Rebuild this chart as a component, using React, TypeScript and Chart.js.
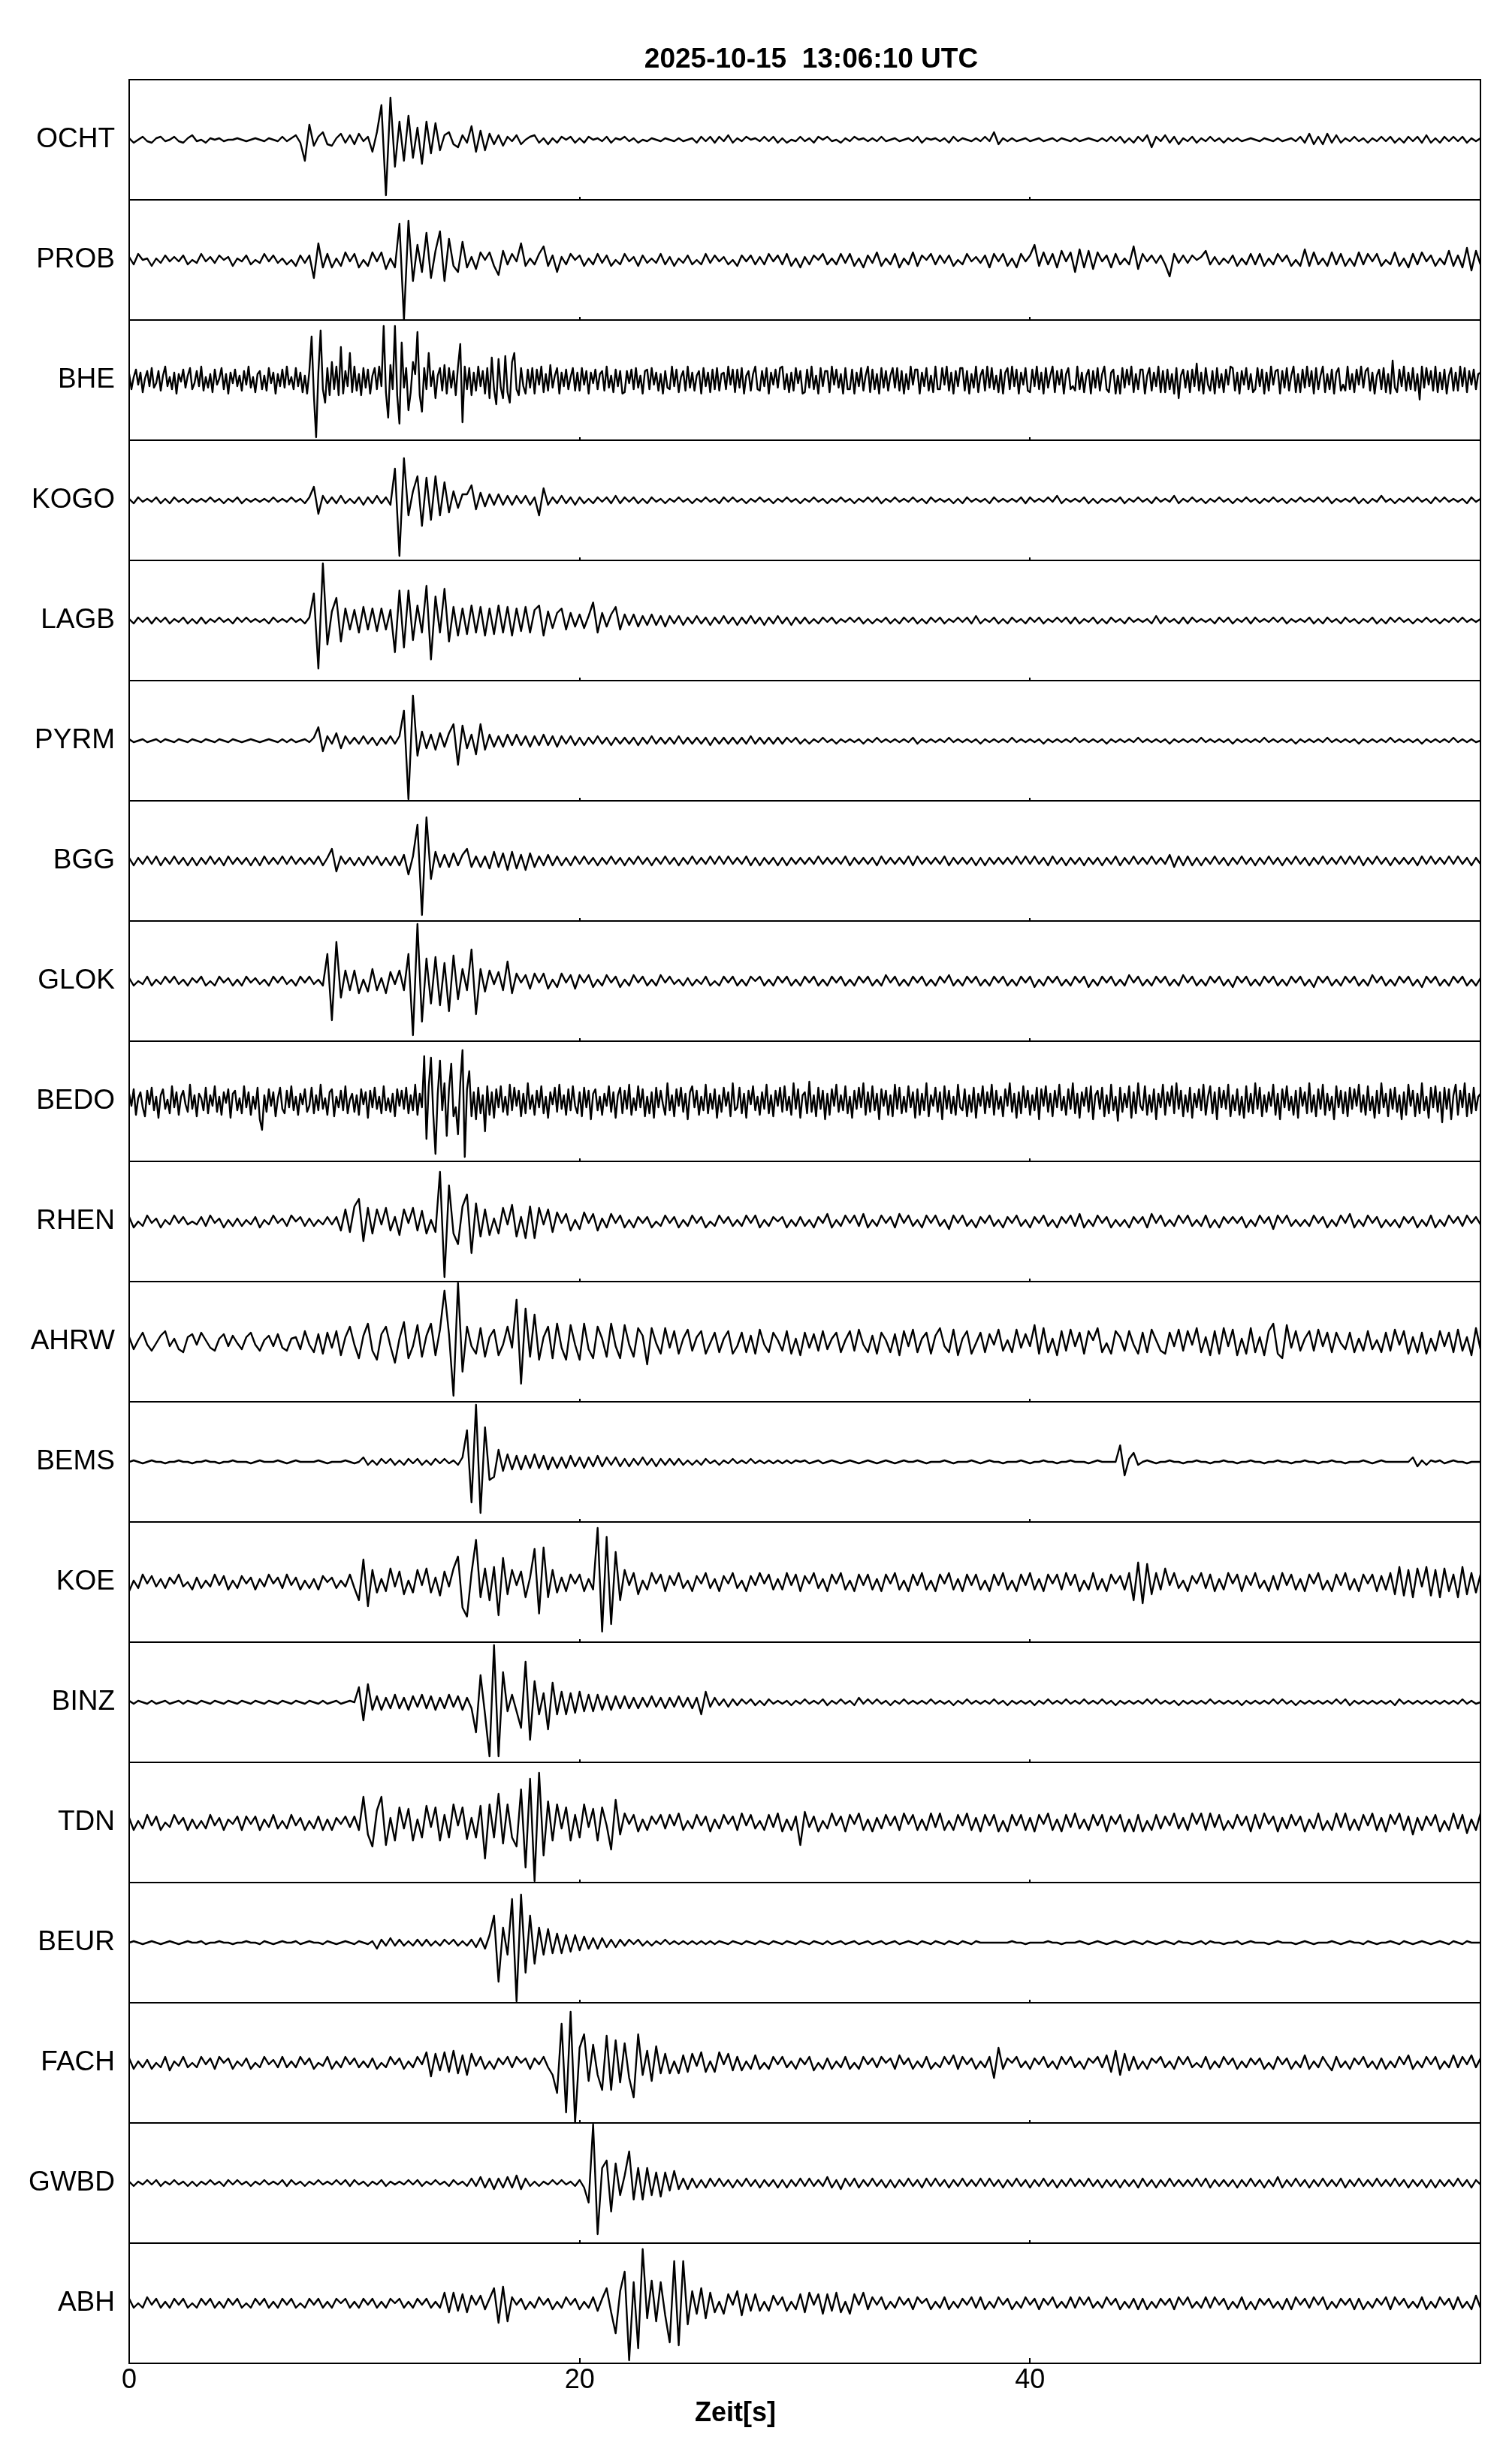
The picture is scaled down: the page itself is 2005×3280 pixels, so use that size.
import React, { useEffect, useRef } from 'react';
import { Chart, registerables } from 'chart.js';

Chart.register(...registerables);

const TITLE = '2025-10-15  13:06:10 UTC';
const X_LABEL = 'Zeit[s]';
const X_MIN = 0;
const X_MAX = 60;
const X_TICKS = [0, 20, 40];
const AMP_MAX = 40;
const STATIONS = ['OCHT', 'PROB', 'BHE', 'KOGO', 'LAGB', 'PYRM', 'BGG', 'GLOK', 'BEDO', 'RHEN', 'AHRW', 'BEMS', 'KOE', 'BINZ', 'TDN', 'BEUR', 'FACH', 'GWBD', 'ABH'];
// sample interval (s) of each trace, same order as STATIONS
const SAMPLE_INTERVALS = [0.2, 0.2, 0.1, 0.2, 0.2, 0.2, 0.2, 0.2, 0.1, 0.2, 0.2, 0.2, 0.2, 0.2, 0.2, 0.2, 0.2, 0.2, 0.2];

const OCHT = [
  1,-2,0,2,-1, -2,1,2,-1,0, 2,-1,-2,1,3, -1,0,-2,1,0, 1,-1,0,0,1,
  0,-1,0,1,0, -1,1,0,-1,2, -1,1,3,-2,-14, 10,-4,2,5,-3, -4,1,4,-2,3,
  -3,4,-1,2,-8, 5,23,-37,28,-18, 12,-14,16,-12,8, -16,12,-9,11,-7, 3,5,-3,-5,3,
  -2,9,-8,6,-7, 4,-3,3,-4,2, -1,3,-3,0,2, 3,-2,1,-3,1, -2,2,0,2,-2,
  1,-2,2,0,1, -1,2,-2,1,0, 2,-1,1,-2,0, -1,1,0,-1,1, 0,-1,1,-1,0,
  1,-2,2,-1,2, -2,2,-1,3,-2, 1,-1,2,0,1, -1,2,-1,2,-2, 1,-2,0,-1,2,
  -1,1,-2,2,0, 2,-1,0,-2,1, -1,2,0,1,-1, 1,-1,2,-1,0, 1,-1,0,1,-1,
  2,-2,1,0,1, -1,1,-2,2,-1, 1,0,-1,1,-1, 2,-1,5,-3,1, -1,1,-1,0,1,
  -1,0,1,-1,0, 1,-1,1,0,-1, 1,-1,0,1,0, -1,1,-1,2,-1, 2,-2,1,-2,2,
  -1,3,-5,2,-1, 3,-2,2,-3,1, -1,2,-2,1,-1, 2,-1,1,-2,1, -1,1,-1,0,1,
  0,-1,1,0,-1, 1,-1,0,1,-1, 2,-2,4,-3,2, -3,4,-2,3,-2, 1,-1,2,-1,1,
  -2,1,-1,2,-1, 2,-2,1,-2,2, -1,2,-2,3,-2, 1,-2,2,-1,2, -1,2,-2,1,-1, 1,
];

const PROB = [
  2,-3,4,0,1, -4,1,-2,3,-1, 2,-1,3,-3,0, -2,4,-1,2,-2, 3,0,2,-4,1,
  -1,3,-3,0,-2, 4,-1,3,-2,1, -3,0,-4,3,-2, 3,-12,11,-5,4, -5,1,-4,5,-1,
  4,-5,0,-4,5, -1,5,-6,1,-5, 24,-40,26,-14,10, -8,18,-12,6,19, -14,14,-4,-8,12,
  -5,2,-6,5,0, 5,-4,-10,6,-3, 4,-1,11,-4,1, -3,4,9,-4,3, -8,2,-3,4,0,
  3,-4,1,-3,4, -2,3,-4,0,-3, 4,-1,2,-4,3, -2,1,-2,4,-3, 2,-4,1,-2,3,
  -3,0,-3,4,-2, 3,-1,2,-3,0, -4,3,-1,3,-3, 2,-3,4,-1,3, -3,4,-4,1,-5,
  2,-3,3,0,4, -3,1,-3,4,-2, 4,-4,1,-5,3, -2,5,-4,1,-3, 4,-5,1,-3,5,
  -4,3,0,4,-3, 3,-2,3,-4,0, -3,4,-1,2,-2, 3,-5,4,-1,4, -4,1,-5,4,-1,
  3,10,-4,5,-3, 4,-5,6,-1,5, -8,7,-5,6,-6, 5,-1,3,-5,4, -3,1,-3,9,-6,
  4,-1,3,-2,3, -3,-11,4,-2,3, -2,3,0,2,6, -3,2,-3,1,-2, 3,-4,1,-3,4,
  -3,4,-4,1,-3, 4,-1,3,-4,0, -4,7,-4,5,-3, 1,-4,5,-3,4, -4,1,-4,5,-3,
  4,-1,4,-4,0, -3,5,-4,1,-5, 4,-3,5,-1,3, -4,1,-3,6,-4, 3,-5,8,-7,6, -3,
];

const BHE = [
  4,-6,2,7,-3,5,-8,1,6,-4, 8,-5,-2,6,-7,3,9,-4,2,-6, 5,-9,4,-1,7,-5,3,8,-6,-2, 6,-4,9,-7,2,-5,4,-8,7,-3, 1,8,-6,4,-9,5,-2,7,-4,3,
  -7,6,-3,9,-5,2,-8,4,6,-6, 3,-7,8,-2,5,-9,4,-4,7,-5, 9,-3,2,-6,8,-4,5,-8,3,-9, 6,29,-10,-38,5,33,-6,-15,8,-10, 12,-6,9,-10,22,-9,6,-4,18,-8,
  9,-7,4,-10,8,-5,7,-9,3,8, -6,9,-4,36,-8,-25,10,-6,36,-10, -29,25,-5,8,-20,-8,12,4,32,-10, -21,8,-6,18,-4,6,-12,3,8,-7, 10,-9,8,-5,6,-10,9,24,-28,9,
  -6,8,-10,5,-7,9,-4,6,-9,8, -12,15,-6,-16,14,-5,-12,16,-8,-15, 12,18,-6,-10,8,-4,-9,7,-5,8, -9,7,-3,9,-8,4,-7,10,-5,3, 8,-9,5,-4,7,-6,2,8,-7,5,
  -7,8,-3,6,-9,5,-2,7,-6,4, 6,-7,9,-5,3,-8,7,-4,6,-9, -8,6,-2,7,-6,8,-5,3,-9,6, 7,-6,8,-3,5,-7,4,-9,6,-5, -6,9,-4,7,-8,2,6,-7,9,-5,
  5,-7,3,6,-9,8,-4,5,-8,7, -6,8,-7,4,5,-6,9,-3,7,-8, 7,-5,8,-9,3,6,-7,4,9,-6, -7,6,-4,8,-9,5,-3,7,-5,8, 9,-6,4,-8,5,-7,8,-2,6,-9,
  -8,7,-5,9,-6,3,-9,8,-4,6, 6,-8,9,-3,7,-5,4,-9,8,-6, -6,7,-9,5,-4,8,-7,3,9,-8, 7,-6,4,-9,8,-5,6,-7,3,8, -5,8,-7,6,-9,4,-6,9,-3,7,
  7,-9,5,-4,8,-7,3,-8,9,-6, -6,8,-3,9,-7,5,-9,6,-4,8, 8,-7,6,-9,4,-5,9,-8,3,7, -7,9,-5,8,-6,3,-8,7,-9,5, 8,-6,9,-4,7,-9,5,-3,8,-7,
  -8,7,-4,9,-6,5,-9,8,-5,3, 9,-8,6,-3,7,-9,4,8,-6,-4, -7,9,-6,5,-8,3,7,-9,6,-5, 8,-7,4,9,-6,-8,5,7,-9,3, -9,8,-5,7,-3,9,-8,4,-6,7,
  7,-9,3,8,-7,5,-4,9,-8,6, -8,7,-6,4,-9,8,-12,3,7,-5, 6,-8,7,-4,11,-7,5,-9,8,-3, -7,6,-9,8,-5,4,-8,7,-3,9, 8,-7,5,-9,6,-3,8,-6,4,-8,
  -6,8,-4,7,-9,5,-7,9,-3,6, 7,-9,6,-5,8,-7,3,9,-8,4, -8,7,-5,9,-4,6,-9,8,-6,3, 9,-8,4,-6,7,-9,5,8,-7,-3, -7,9,-6,4,-8,7,-3,9,-5,6,
  8,-7,5,-9,3,7,-6,8,-8,4, -9,13,-5,-8,7,-4,9,-7,5,-6, 8,-7,4,-13,9,-5,8,-3,6,-7, 9,-8,5,-6,7,-9,3,8,-7,5, -7,9,-4,8,-8,6,-3,7,-6,4, 5,
];

const KOGO = [
  1,-2,2,-1,1, -1,2,-2,1,-2, 2,-1,1,-2,1, -1,1,-1,2,-1, 1,-2,1,-1,2,
  -2,1,-1,1,-1, 1,-1,2,-1,1, -1,2,-1,1,-2, 2,9,-9,3,-2, 2,-2,3,-2,1,
  -2,2,-3,2,-2, 3,-2,2,-3,21, -37,28,-10,6,16, -17,15,-13,16,-10, 12,-8,6,-5,4,
  4,10,-6,5,-4, 4,-3,4,-3,3, -3,3,-2,3,-3, 2,-10,8,-3,2, -2,3,-2,2,-3,
  2,-2,1,-2,2, -1,2,-2,3,-2, 2,-1,2,-2,1, -2,2,-1,1,-2, 1,-1,2,-1,1,
  -2,1,-1,2,-1, 1,-2,2,-1,2, -1,1,-2,1,-1, 2,-1,1,-2,1, -1,2,-1,1,-2,
  1,-1,2,-1,1, -2,1,-1,2,-1, 1,-2,1,-1,2, -1,2,-2,1,-1, 2,-1,1,-1,2,
  -1,1,-2,2,-1, 1,-1,1,-2,1, -2,2,-1,1,-1, 1,-2,2,-1,1, -1,1,-1,2,-2,
  2,-1,1,-1,2, -1,3,-2,1,-1, 1,-1,2,-2,1, -2,1,-1,1,-1, 2,-2,1,-1,2,
  -1,1,-2,2,-1, 1,-1,3,-2,1, -1,2,-1,1,-2, 1,-1,2,-1,1, -2,1,-1,2,-1,
  1,-2,1,-1,2, -1,1,-2,1,-1, 2,-1,1,-1,2, -1,2,-2,1,-1, 1,-1,2,-2,1,
  -2,1,-1,3,-1, 1,-2,1,-1,2, -1,2,-1,1,-2, 2,-1,2,-1,1, -1,1,-2,2,-1, 1,
];

const LAGB = [
  1,-2,2,-1,2, -2,2,-1,2,-2, 1,-1,2,-2,1, -2,2,-2,1,-1, 2,-1,1,-2,2,
  -1,2,-1,1,-1, 1,-2,2,-1,1, -1,2,-1,1,-2, 2,18,-32,38,-16, 6,15,-14,8,-6,
  7,-8,9,-6,8, -7,8,-6,7,-21, 20,-18,20,-13,10, -8,23,-26,16,-8, 21,-14,9,-10,8,
  -9,10,-8,9,-10, 8,-9,10,-8,9, -10,8,-7,9,-8, 7,10,-10,6,-5, 5,8,-6,5,-4,
  4,-5,3,12,-8, 5,-4,4,9,-6, 4,-3,4,-4,3, -3,4,-3,3,-4, 3,-2,3,-3,2,
  -2,3,-2,2,-3, 2,-2,3,-2,2, -3,2,-2,3,-2, 2,-3,2,-2,3, -2,2,-3,2,-2,
  2,-2,1,-2,2, -1,2,-2,1,-1, 2,-1,2,-2,1, -2,1,-1,2,-2, 1,-2,2,-1,2,
  -2,1,-2,2,-1, 2,-2,1,-1,2, -1,2,-2,3,-2, 1,-1,2,-2,1, -2,2,-1,1,-2,
  2,-1,2,-2,1, -1,2,-1,2,-2, 2,-2,1,-1,2, -2,1,-2,2,-1, 1,-2,2,-1,1,
  -1,1,-2,3,-2, 2,-1,1,-2,2, -2,2,-1,1,-1, 1,-2,2,-1,2, -2,1,-1,2,-2,
  2,-1,1,-1,2, -1,2,-2,1,-1, 1,-1,2,-2,1, -2,2,-1,1,-2, 2,-1,1,-2,1,
  -1,2,-2,1,-2, 2,-1,2,-1,1, -2,1,-1,2,-1, 1,-2,1,-1,2, -1,2,-1,1,-1, 1,
];

const PYRM = [
  1,-1,0,1,-1, 0,1,-1,1,0, -1,1,0,-1,1, 0,-1,1,0,-1, 1,0,-1,1,0,
  -1,0,1,0,-1, 0,1,0,-1,1, -1,1,-1,0,1, -1,2,9,-7,3, -2,5,-5,3,-2,
  2,-2,3,-2,2, -3,2,-2,3,-2, 3,20,-39,30,-10, 6,-5,4,-6,5, -4,5,11,-16,10,
  -5,4,-9,11,-6, 4,-4,3,-4,4, -3,4,-3,3,-4, 3,-3,4,-3,3, -4,3,-2,3,-3,
  2,-3,2,-2,3, -2,2,-3,2,-2, 2,-2,2,-3,2, -2,3,-2,2,-2, 2,-2,3,-2,2,
  -2,2,-2,2,-3, 2,-2,2,-2,2, -2,2,-2,3,-2, 2,-2,2,-2,2, -2,2,-1,2,-2,
  1,-2,1,-1,2, -1,1,-2,1,-1, 1,-1,1,-2,1, -1,2,-1,1,-1, 1,-1,1,-1,2,
  -2,1,-1,1,-1, 1,-1,2,-1,1, -1,1,-1,1,-2, 1,-1,1,-1,1, -1,2,-1,1,-1,
  1,-1,1,-2,1, -1,1,-1,1,-1, 2,-1,1,-1,1, -1,1,-2,1,-1, 1,-1,1,-1,2,
  -1,1,-1,1,-1, 1,-2,1,-1,1, -1,1,-1,2,-1, 1,-1,1,-1,1, -2,1,-1,1,-1,
  1,-1,2,-1,1, -1,1,-1,1,-2, 1,-1,1,-1,1, -1,2,-1,1,-1, 1,-1,1,-2,1,
  -1,1,-1,1,-1, 2,-1,1,-1,1, -1,1,-2,1,-1, 1,-1,1,-1,2, -1,1,-1,1,-1, 0,
];

const BGG = [
  2,-3,2,-2,3, -2,3,-3,2,-2, 3,-2,2,-3,2, -3,2,-2,3,-2, 2,-3,3,-2,2,
  -2,2,-3,2,-3, 3,-2,2,-2,3, -2,3,-2,2,-2, 2,-2,3,-3,2, 8,-7,3,-2,2,
  -3,2,-3,3,-2, 3,-3,2,-3,3, -3,4,-9,3,24, -36,29,-12,6,-4, 4,-4,5,-3,4,
  8,-4,3,-4,3, -5,6,-4,5,-6, 6,-5,4,-6,5, -4,3,-3,4,-3, 3,-3,2,-3,3,
  -2,3,-2,2,-3, 2,-2,3,-2,2, -3,2,-2,3,-2, 2,-3,2,-2,3, -2,2,-3,2,-2,
  3,-2,2,-2,3, -2,3,-2,3,-2, 2,-2,3,-3,2, -3,2,-2,2,-3, 2,-3,2,-2,2,
  -2,2,-2,3,-2, 2,-2,2,-2,3, -3,2,-2,2,-2, 2,-3,3,-2,2, -2,2,-2,3,-3,
  3,-2,2,-2,2, -2,3,-3,2,-2, 2,-2,2,-3,2, -3,2,-2,2,-2, 2,-2,3,-2,3,
  -2,3,-2,2,-3, 3,-2,2,-3,2, -2,2,-3,2,-2, 2,-3,2,-2,3, -3,2,-2,3,-2,
  2,-2,3,-2,2, -2,4,-4,3,-3, 3,-3,2,-3,2, -2,3,-2,2,-3, 2,-2,3,-2,2,
  -3,2,-2,3,-2, 2,-3,2,-2,3, -2,2,-3,2,-2, 3,-2,2,-2,3, -2,3,-2,3,-3,
  2,-2,3,-2,2, -3,2,-2,2,-2, 2,-3,3,-2,3, -2,2,-2,3,-2, 3,-2,2,-3,2, -2,
];

const GLOK = [
  2,-3,0,-2,3, -3,1,-2,3,-1, 3,-2,1,-3,2, -1,3,-3,0,-3, 3,-1,2,-3,1,
  -3,3,-1,2,-2, 1,-3,3,-1,3, -2,1,-3,3,-1, 3,-2,1,-3,18, -26,26,-11,7,-6,
  7,-8,1,-7,8, -6,2,-8,6,-2, 7,-6,18,-36,38, -27,15,-15,16,-16, 12,-20,17,-12,8,
  -6,21,-22,8,-7, 7,-2,6,-6,13, -8,5,-1,4,-5, 5,-1,5,-5,1, -4,5,-1,4,-5,
  4,-1,4,-4,1, -3,4,-1,3,-4, 1,-3,4,-1,3, -3,1,-3,4,-1, 3,-2,1,-3,2,
  -3,1,-2,3,-3, 0,-3,3,-1,3, -3,1,-3,3,0, 3,-3,1,-3,3, -1,3,-3,1,-3,
  3,-1,3,-3,1, -3,3,-1,3,-3, 1,-3,3,-1,3, -3,1,-3,4,-1, 3,-3,1,-3,3,
  -1,3,-3,1,-3, 3,-1,4,-3,1, -3,3,-1,3,-3, 1,-3,3,-1,3, -3,1,-3,3,-1,
  3,-4,1,-3,3, -1,3,-3,1,-3, 3,-1,3,-4,1, -3,3,-1,3,-3, 1,-3,4,-1,3,
  -3,1,-3,3,-1, 3,-3,1,-3,4, -1,3,-3,1,-3, 3,-1,3,-3,1, -4,3,-1,3,-3,
  1,-3,3,-1,3, -3,1,-3,3,-1, 3,-3,1,-4,3, -1,3,-3,1,-3, 3,-1,3,-3,1,
  -3,4,-1,3,-3, 1,-3,3,-1,3, -3,1,-4,3,-1, 3,-3,1,-3,3, -1,3,-3,1,-3, 2,
];

const BEDO = [
  5,-3,8,-9,2,6,-4,-10,7,-2, 9,-6,3,-11,4,8,-5,1,-8,10, -4,6,-9,3,7,-2,-7,11,-5,4, -10,5,2,-6,9,-8,4,-3,10,-7, 3,-9,6,-1,8,-11,5,7,-6,2,
  -8,10,-4,6,-9,3,-5,9,-12,-19, 4,-7,8,-3,6,-10,2,9,-5,-8, 7,-4,10,-6,3,-9,5,-2,8,-7, -3,9,-8,4,-6,11,-5,2,-9,6, 8,-10,3,-4,7,-6,10,-8,1,5,
  -7,4,-9,8,-2,6,-11,7,-4,9, -5,3,-8,10,-6,2,-7,5,-10,8, -3,7,-5,9,-8,4,-6,11,-9,5, -4,30,-25,10,29,-8,-35,5,27,-6, 12,-23,8,25,-10,-4,-22,12,34,-37,
  8,20,-10,6,-12,9,-8,4,-20,10, -9,6,-11,8,-4,10,-7,3,-9,11, -6,9,-3,7,-10,5,-8,12,-5,4, -9,7,-4,10,-8,3,-11,6,-2,9, -7,11,-5,4,-9,8,-6,10,-3,-8,
  6,-10,9,-4,7,-12,5,8,-6,3, -9,5,-3,10,-7,6,-11,4,9,-8, 7,-5,11,-9,2,-6,10,-4,8,-10, 3,-8,6,-11,9,-4,7,-2,-9,12, -6,4,-10,8,-3,9,-7,5,-12,6,
  10,-4,7,-9,3,-6,11,-8,5,-5, 8,-11,4,-7,9,-3,6,-10,12,-6, -4,9,-8,5,-11,7,-2,10,-6,3, -9,6,-5,11,-8,4,-10,7,-3,9, -7,10,-6,3,-9,12,-5,8,-11,4,
  6,-8,13,-7,4,-10,9,-5,7,-12, 5,-9,8,-3,11,-7,4,-6,10,-8, 3,-11,7,-5,9,-4,12,-9,6,-7, 10,-6,5,-12,8,-3,7,-9,4,-10, 11,-5,9,-8,3,-7,10,-4,6,-11,
  8,-9,5,-6,12,-10,4,-3,9,-7, 6,-12,10,-5,7,-8,3,-9,11,-4, -6,8,-10,4,-7,9,-11,5,-3,10, -8,6,-4,11,-9,7,-5,3,-10,8, -3,12,-7,5,-11,6,-8,10,-4,7,
  -9,4,-6,9,-12,8,-3,10,-7,5, -10,7,-4,11,-6,3,-9,8,-5,12, -8,5,-11,6,-3,9,-7,10,-12,4, 7,-5,9,-10,4,-8,11,-6,3,-13, 9,-7,5,-4,10,-11,6,-8,12,-3,
  -6,10,-9,4,-7,8,-12,5,-4,11, -9,6,-3,10,-8,12,-5,7,-10,4, -7,9,-11,5,-4,8,-6,11,-9,3, 10,-8,6,-12,9,-4,7,-5,11,-10, 4,-6,8,-9,3,-11,10,-7,5,-8,
  12,-5,9,-10,4,-7,6,-3,11,-9, 5,-12,8,-4,10,-6,3,-9,7,-11, 9,-3,6,-8,12,-7,4,-10,8,-5, 11,-9,5,-6,3,-12,10,-4,7,-8, 6,-10,9,-5,8,-3,11,-7,4,-9,
  10,-6,3,-11,7,-8,12,-4,5,-10, 8,-5,9,-7,4,-12,6,-9,11,-3, 7,-10,5,-8,12,-6,3,-11,9,-4, 10,-7,6,-14,9,-5,8,-12,4,11, -9,7,-4,12,-10,5,-8,9,-6,3, 5,
];

const RHEN = [
  3,-4,0,-3,4, -1,2,-4,1,-2, 4,-1,3,-2,0, -2,3,-3,4,-1, 2,-4,1,-3,2,
  -3,1,-2,3,-4, 1,-2,4,-1,2, -3,4,0,3,-3, 2,-3,1,-2,3, -2,3,-6,8,-7,
  10,15,-13,9,-8, 8,-2,9,-6,3, -9,8,-1,9,-6, 7,-8,1,-7,33, -37,24,-8,-15,10,
  18,-21,12,-10,8, -9,2,-8,9,-2, 11,-10,3,-11,10, -11,9,-2,8,-7, 6,-1,5,-6,1,
  -5,6,-1,5,-6, 2,-4,5,-1,4, -4,1,-4,3,-1, 3,-4,0,-3,4, -1,3,-4,1,-3,
  4,-1,3,-4,0, -3,4,-1,3,-3, 1,-3,4,-1,4, -4,1,-3,3,0, 3,-4,1,-3,3,
  -3,1,-4,3,-1, 5,-4,1,-3,4, -1,4,-3,5,-4, 1,-3,4,-1,3, -4,5,-1,4,-3,
  1,-4,4,-1,4, -3,1,-5,4,-1, 4,-3,1,-4,3, -1,4,-3,1,-4, 3,-1,4,-3,1,
  -4,3,-1,4,-3, 1,-4,3,-1,4, -3,5,-4,1,-3, 4,-1,3,-4,1, -3,1,-4,3,-1,
  3,-4,5,-1,4, -3,1,-3,4,-1, 4,-3,1,-3,4, -4,1,-4,3,-1, 3,-1,3,-4,1,
  -3,4,-1,3,-5, 4,-1,4,-3,1, -3,1,-3,4,-1, 3,-4,1,-3,4, -1,5,-4,1,-3,
  4,-1,3,-4,1, -3,1,-4,3,-1, 3,-4,1,-3,4, -4,1,-3,4,-1, 3,-3,4,-1,3, -2,
];

const AHRW = [
  3,-5,1,6,-2, -6,-1,4,7,-3, 2,-5,-7,3,5, -2,6,1,-4,-6, 2,5,-3,4,-1,
  -5,3,6,-2,-6, 1,4,-3,5,-4, -6,2,3,-5,7, -2,-7,5,-8,6, -4,7,-9,3,10,
  -2,-11,4,12,-6, -12,5,10,-3,-14, 2,13,-11,-3,11, -10,4,12,-9,8, 34,5,-36,39,-20,
  10,-3,-8,9,-10, 3,8,-9,-2,10, -4,28,-28,22,-10, 18,-12,3,10,-11, 12,-4,-12,11,-2,
  -12,12,-5,-11,10, 2,-10,12,-3,-11, 11,-2,-10,9,4, -15,9,-1,-8,9, -4,7,-8,2,8,
  -6,3,7,-8,-1, 6,-7,2,7,-8, -3,6,-7,4,-8, 8,-2,-7,6,1, -6,7,-8,2,-9,
  6,-4,5,-6,7, -5,2,6,-7,1, 7,-6,8,-2,-7, 4,-8,6,1,-7, 5,-9,7,-3,8,
  -7,2,6,-8,4, 9,-3,-7,8,-9, 2,7,-8,-1,6, -7,5,-2,8,-6, 1,-7,8,-4,5,
  -3,11,-8,9,-7, 2,-9,7,-6,8, -3,6,-8,7,1, 9,-7,-1,-8,7, 3,-6,7,-2,-8,
  6,-7,8,1,-6, -8,6,-3,8,-6, 7,-2,9,-7,3, -9,7,-8,9,-3, 8,-9,2,-8,9,
  -7,3,-9,7,12, -8,-11,11,-4,7, -6,2,7,-6,8, -3,6,-7,6,-1, -5,6,-7,2,-6,
  7,-5,1,-7,6, -6,8,-2,7,-8, 3,-7,6,-8,2, -6,7,-3,6,-7, 8,-6,3,-9,9, -5,
];

const BEMS = [
  0,1,0,-1,0, 1,0,0,-1,0, 0,1,0,0,-1, 0,0,1,0,0, -1,0,0,1,0,
  0,0,-1,0,1, 0,0,0,1,0, -1,0,1,0,0, 0,0,1,0,-1, 0,0,0,1,0,
  -1,0,3,-2,1, -2,2,-1,2,-2, 1,-2,2,-1,2, -2,1,-2,2,-1, 2,-1,1,-2,3,
  21,-27,38,-34,23, -12,-10,8,-6,5, -5,4,-5,4,-4, 5,-4,4,-5,3, -4,3,-4,4,-3,
  3,-4,3,-3,4, -3,3,-2,3,-3, 2,-3,2,-2,3, -2,2,-3,2,-2, 2,-2,2,-2,1,
  -2,1,-2,2,-1, 1,-2,1,-1,2, -1,1,-1,2,-1, 1,-1,1,-1,1, -1,1,-1,1,0,
  1,-1,0,1,-1, 0,1,0,-1,0, 1,0,-1,0,1, 0,-1,0,1,0, -1,0,1,0,0,
  1,0,-1,0,0, 0,1,0,-1,0, 0,0,1,0,-1, 0,1,0,0,-1, 0,0,0,1,0,
  -1,0,0,1,0, 0,-1,0,0,1, 0,0,0,-1,0, 1,0,0,0,0, 11,-9,2,6,-2,
  0,1,0,-1,0, 0,1,0,0,-1, 0,0,1,0,0, -1,0,0,1,0, 0,-1,0,0,1,
  0,0,-1,0,0, 1,0,0,-1,0, 0,1,0,0,-1, 0,0,1,0,0, -1,0,0,0,1,
  0,-1,0,1,0, 0,0,0,0,0, 3,-3,1,-2,1, 0,1,-1,0,1, 0,0,-1,0,0, 0,
];

const KOE = [
  -6,1,-4,5,-1, 4,-3,2,-4,3, -1,5,-3,0,-5, 3,-4,1,-3,5, -2,4,-5,1,-4,
  4,-1,3,-5,2, -3,5,-1,3,-4, 5,-2,3,-5,1, -4,2,-5,4,0, 3,-4,1,-3,5,
  -4,-12,15,-16,8, -7,2,-6,9,-3, 7,-8,1,-7,8, -2,9,-7,3,-9, 7,-3,9,17,-17,
  -23,6,28,-10,9, -12,10,-22,16,-8, 8,-2,7,-10,3, 22,-21,23,-10,8, -7,3,-6,5,-1,
  5,-6,2,-5,36, -33,30,-28,20,-12, 8,-2,6,-8,1, -5,6,-1,5,-6, 4,-2,6,-4,1,
  -6,4,-1,6,-4, 2,-6,4,-1,6, -4,1,-6,4,-2, 6,-1,5,-5,2, -5,6,-2,5,-6,
  4,-1,6,-4,2, -6,5,-1,6,-5, 1,-6,5,-2,5, -5,2,-6,5,-1, 6,-5,1,-6,5,
  -2,6,-5,1,-6, 5,-1,6,-5,2, -6,5,-2,5,-5, 1,-6,5,-2,6, -5,1,-6,5,-2,
  6,-5,2,-6,5, -1,5,-5,6,-2, 5,-6,1,-5,6, -5,2,-6,5,-1, 4,-5,6,-12,13,
  -14,12,-8,6,-5, 9,-2,6,-4,1, -6,4,-1,6,-4, 5,-6,2,-5,6, -1,5,-6,4,-2,
  6,-4,1,-6,4, -5,6,-2,5,-5, 2,-6,5,-1,6, -5,1,-6,5,-2, 6,-5,2,-6,5,
  -1,5,-6,4,-5, 6,-8,10,-9,8, -10,9,-3,10,-9, 8,-10,9,-6,5, -10,10,-8,6,-7, 5,
];

const BINZ = [
  1,-1,1,0,-1, 1,-1,0,1,-1, 0,1,-1,1,0, -1,1,0,-1,1, 0,-1,1,0,-1,
  1,0,-1,1,0, -1,1,0,-1,1, 0,-1,1,0,-1, 1,0,-1,1,-1, 0,1,-1,0,1,
  0,10,-12,12,-5, 4,-5,3,-4,5, -4,3,-5,4,-3, 5,-4,4,-5,3, -4,5,-3,4,-5,
  3,-4,-20,18,-8, -36,38,-36,20,-6, 5,-6,-17,27,-25, 14,-8,6,-18,13, -8,7,-8,6,-7,
  7,-6,5,-6,5, -5,4,-5,4,-4, 4,-4,3,-4,3, -3,4,-3,3,-4, 3,-3,4,-3,3,
  -4,3,-8,7,-3, 3,-2,2,-3,2, -2,2,-1,2,-2, 1,-2,2,-1,1, -1,1,-2,1,-1,
  2,-1,1,-1,2, -2,1,-1,2,-1, 1,-2,3,-1,2, -1,2,-1,1,-2, 1,-1,2,-1,1,
  -1,1,-1,2,-1, 1,-1,1,-2,1, -1,2,-1,1,-1, 1,-1,2,-1,1, -2,1,-1,1,-1,
  1,-2,1,-1,2, -1,1,-1,2,-1, 1,-1,2,-1,1, -1,2,-1,1,-2, 1,-1,1,-1,1,
  -1,2,-1,2,-1, 1,-1,1,-2,1, -1,1,-1,1,-1, 2,-1,1,-1,1, -1,1,-2,1,-1,
  1,-1,1,-1,2, -1,2,-1,1,-2, 1,-1,1,-1,1, -1,1,-1,2,-1, 2,-2,1,-1,1,
  -1,1,-1,1,-1, 1,-2,2,-1,1, -1,1,-1,1,-1, 1,-1,1,-1,1, -1,2,-1,1,-1, 0,
];

const TDN = [
  3,-5,1,-4,5, -2,4,-5,0,-3, 5,-1,3,-5,2, -4,1,-4,5,-2, 3,-5,2,-1,4,
  -5,4,-1,4,-5, 2,-3,5,-4,1, -4,5,-2,3,-5, 1,-4,4,-5,2, -5,3,-1,4,-3,
  4,-5,17,-8,-16, 8,17,-15,3,-12, 10,-4,9,-12,2, -10,11,-3,10,-12, 5,-10,12,-2,10,
  -11,3,-10,11,-24, 12,-10,19,-14,12, -10,-16,22,-30,29, -39,33,-22,14,-12, 12,-4,10,-12,5,
  -10,12,-3,9,-12, 10,-2,-18,15,-8, 6,-1,5,-6,2, -5,4,-1,5,-4, 5,-2,6,-5,1,
  -4,5,-2,4,-6, 2,-4,5,-1,4, -5,6,-2,5,-4, 1,-5,5,-3,6, -6,2,-5,4,-15,
  7,-3,4,-6,1, -4,6,-2,4,-6, 5,-1,6,-5,2, -6,3,-4,5,-2, 4,-5,6,-1,5,
  -5,2,-5,6,-3, 6,-5,1,-5,5, -2,6,-5,3,-6, 5,-2,5,-6,1, -6,5,-2,5,-5,
  3,-6,5,-1,6, -5,2,-6,5,-3, 6,-4,2,-5,5, -2,5,-6,4,-1, 5,-6,2,-6,5,
  -6,1,-5,5,-4, 4,-2,6,-4,3, -5,6,-1,6,-5, 6,-3,5,-5,1, -4,5,-2,4,-6,
  5,-4,6,-1,4, -6,3,-4,5,-2, 4,-6,2,-4,6, -5,1,-5,6,-3, 6,-5,2,-5,5,
  -2,6,-5,3,-6, 5,-1,6,-5,4, -8,3,-5,4,-2, 5,-6,1,-5,6, -4,5,-7,2,-5, 6,
];

const BEUR = [
  0,1,0,-1,0, 1,0,-1,0,1, 0,-1,0,1,0, 0,1,-1,0,0, 1,0,0,-1,0,
  0,1,0,0,-1, 1,0,-1,0,1, 0,0,1,-1,0, 1,0,0,-1,1, 0,-1,0,1,0,
  -1,1,0,-1,1, -4,2,-2,3,-2, 2,-2,1,-2,2, -2,2,-2,1,-2, 2,-1,2,-2,1,
  -2,2,-3,3,-4, 5,18,-26,10,-8, 29,-39,32,-20,18, -14,10,-8,9,-7, 6,-7,5,-6,5,
  -5,4,-4,3,-4, 3,-3,2,-3,2, -2,2,-1,2,-2, 1,-2,1,-1,2, -1,1,-1,1,-1,
  1,-1,1,-1,1, -1,1,0,-1,1, 0,-1,1,0,-1, 1,0,-1,1,0, -1,1,0,-1,1,
  0,-1,1,0,-1, 1,-1,0,1,-1, 0,1,-1,0,1, -1,0,1,-1,0, 1,-1,0,1,0,
  -1,1,0,-1,1, 0,-1,1,0,-1, 1,0,-1,1,0, 0,0,0,0,0, 0,1,0,0,-1,
  0,0,0,0,1, 0,0,-1,0,0, 0,1,0,-1,0, 1,0,-1,0,1, 0,-1,0,1,0,
  -1,1,0,-1,0, 1,0,-1,1,0, 0,-1,0,1,-1, 1,0,0,-1,0, 0,1,-1,0,1,
  0,0,0,-1,0, 1,0,0,0,-1, 0,1,0,-1,0, 0,0,1,0,-1, 0,1,0,0,-1,
  1,0,-1,0,0, 1,0,-1,1,0, -1,0,1,0,-1, 0,1,0,-1,1, 0,-1,1,0,0, 0,
];

const FACH = [
  3,-4,1,-3,2, -4,0,-3,4,-5, 1,-2,4,-3,0, -3,4,-1,3,-4, 4,0,3,-4,1,
  -2,3,-4,0,-3, 4,-1,2,-3,4, -3,1,-3,4,-1, 3,-4,0,-2,4, -4,1,-3,4,-1,
  3,-3,1,-3,3, -4,0,-3,4,-1, 3,-4,1,-3,4, -1,7,-9,6,-5, 7,-6,8,-7,5,
  -8,6,-2,4,-4, 1,-4,3,-1,4, -3,4,0,3,-4, 3,-1,4,-3,-8, -20,26,-33,34,-40,
  10,19,-12,12,-8, -18,18,-18,15,-13, 13,-10,-23,19,-8, 8,-12,11,-7,6, -7,1,-7,5,-6,
  6,-2,7,-6,1, -6,7,-1,6,-5, 4,-5,1,-4,5, -4,0,-4,4,-1, 4,-3,1,-4,3,
  -1,4,-5,0,-4, 3,-4,1,-3,4, -4,0,-4,4,-1, 3,-3,4,0,3, -4,5,-1,3,-4,
  1,-3,4,-4,0, -3,4,-1,5,-4, 4,-1,3,-4,1, -3,4,-10,10,-4, 3,0,4,-3,1,
  -4,3,-1,4,-3, 1,-4,4,-1,4, -3,1,-4,3,0, 4,-3,5,-6,8, -8,6,-5,4,-4,
  1,-4,3,0,4, -3,1,-4,4,-1, 4,-3,0,-3,4, -4,1,-3,4,-1, 3,-4,1,-3,3,
  -1,3,-4,0,-4, 4,-1,3,-4,1, -3,5,-4,1,-3, 4,-1,-5,4,-3, 1,-4,3,-1,4,
  -3,1,-4,3,-4, 1,-3,4,-1,5, -4,1,-3,4,-1, 4,-4,1,-3,5, -3,4,-1,5,-3, 3,
];

const GWBD = [
  1,-2,1,-1,2, -1,2,-2,1,-1, 2,-1,1,-2,1, -2,1,-1,2,-1, 1,-2,2,-1,2,
  -1,1,-2,1,-1, 2,-1,1,-1,2, -2,2,-1,1,-2, 1,-1,2,-1,1, -1,2,-1,2,-2,
  2,-1,1,-2,1, -1,2,-2,1,-1, 1,-1,2,-1,2, -2,1,-1,2,-1, 1,-2,2,-1,1,
  -2,3,-2,4,-3, 3,-4,3,-3,4, -3,5,-4,3,-2, 1,-2,1,-1,2, -1,2,-1,1,-2,
  2,-3,-13,39,-34, 10,15,-19,13,-8, 5,21,-11,10,-11, 10,-8,7,-9,7, -5,8,-4,3,-4,
  3,-3,2,-3,3, -2,3,-2,2,-3, 2,-2,3,-2,2, -3,2,-2,2,-3, 2,-3,2,-2,3,
  -2,3,-2,2,-2, 4,-3,2,-4,3, -2,3,-3,2,-2, 3,-2,2,-3,2, -3,2,-2,3,-2,
  2,-3,3,-2,3, -2,2,-3,2,-2, 3,-2,2,-2,3, -2,3,-2,2,-3, 2,-2,3,-2,2,
  -3,2,-2,3,-2, 2,-3,2,-2,3, -2,2,-2,3,-2, 2,-3,2,-2,2, -3,2,-2,2,-3,
  3,-2,2,-3,2, -2,3,-2,2,-2, 2,-2,3,-2,3, -3,2,-2,2,-2, 2,-3,2,-2,3,
  -2,2,-3,2,-2, 4,-3,2,-2,3, -2,2,-3,2,-2, 3,-2,2,-2,3, -3,2,-2,3,-2,
  2,-2,3,-2,2, -2,3,-2,2,-3, 2,-2,2,-3,2, -3,2,-2,2,-2, 3,-2,2,-3,2, -1,
];

const ABH = [
  3,-3,0,-3,4, -1,3,-3,1,-3, 3,-1,3,-3,0, -3,3,-1,3,-3, 1,-3,3,-1,3,
  -3,0,-3,3,-1, 3,-3,1,-3,3, -1,3,-3,0,-3, 3,-1,3,-3,1, -3,3,0,3,-3,
  1,-3,3,-1,3, -3,1,-3,3,0, 3,-3,1,-3,3, -1,3,-3,1,-3, 7,-6,7,-5,6,
  -6,5,-1,5,-4, 3,10,-13,11,-12, 4,-1,3,-4,1, -3,4,-1,3,-4, 1,-3,4,-1,3,
  -4,1,-3,4,-5, 3,10,-6,-20,8, 21,-38,14,-30,36, -10,15,-12,14,-8, -26,28,-28,28,-14,
  8,-7,10,-10,7, -6,1,-7,6,-1, 8,-8,6,-5,6, -5,1,-5,5,-1, 4,-5,1,-4,6,
  -6,7,-1,6,-7, 6,-5,7,-6,1, -7,6,-1,7,-4, 4,-1,4,-4,1, -3,4,-1,3,-4,
  4,0,3,-4,1, -3,4,-4,1,-3, 3,-1,4,-3,4, -4,1,-3,4,-1, 3,-4,1,-3,4,
  -1,3,-4,3,-1, 4,-3,1,-3,4, -3,4,-1,4,-3, 1,-3,4,-1,3, -4,1,-3,3,-4,
  3,-4,1,-3,3, -1,3,-4,4,-1, 4,-3,1,-3,4, -3,4,-1,3,-4, 1,-3,4,-4,1,
  -4,3,-1,3,-3, 1,-4,3,-4,4, -1,3,-3,4,-1, 4,-4,1,-3,3, -1,3,-4,3,-4,
  1,-3,3,-1,4, -4,4,-1,3,-3, 1,-3,4,-4,1, -3,4,-1,3,-4, 4,-3,1,-4,5, -3,
];

const TRACES = [OCHT, PROB, BHE, KOGO, LAGB, PYRM, BGG, GLOK, BEDO, RHEN, AHRW, BEMS, KOE, BINZ, TDN, BEUR, FACH, GWBD, ABH];

const FONT = '"Liberation Sans", Arial, Helvetica, sans-serif';
const CANVAS_W = 1989;
const CANVAS_H = 3264;

const framePlugin = {
  id: 'seismoFrame',
  afterDraw(chart: any) {
    const { ctx, chartArea } = chart;
    const xs = chart.scales.x;
    const w = chartArea.right - chartArea.left;
    ctx.save();
    ctx.strokeStyle = '#000';
    ctx.lineWidth = 2;
    STATIONS.forEach((_, i) => {
      const ys = chart.scales['y' + i];
      ctx.strokeRect(chartArea.left, ys.top, w, ys.bottom - ys.top);
      const len = i === STATIONS.length - 1 ? 7 : 4;
      X_TICKS.forEach((v) => {
        if (v <= X_MIN) return;
        const px = Math.round(xs.getPixelForValue(v));
        ctx.beginPath();
        ctx.moveTo(px, ys.bottom);
        ctx.lineTo(px, ys.bottom - len);
        ctx.stroke();
      });
    });
    ctx.fillStyle = '#000';
    ctx.textAlign = 'center';
    ctx.textBaseline = 'middle';
    ctx.font = `bold 37px ${FONT}`;
    ctx.fillText(TITLE, chartArea.left + 908, chartArea.top - 26);
    ctx.font = `bold 36px ${FONT}`;
    ctx.fillText(X_LABEL, chartArea.left + 807, chartArea.bottom + 67);
    ctx.restore();
  },
};

export default function App() {
  const ref = useRef<HTMLCanvasElement>(null);

  useEffect(() => {
    const canvas = ref.current;
    if (!canvas) return;
    const n = STATIONS.length;
    const scales: any = {
      x: {
        type: 'linear',
        position: 'bottom',
        min: X_MIN,
        max: X_MAX,
        grid: { display: false, drawTicks: false },
        border: { display: false },
        afterBuildTicks: (ax: any) => {
          ax.ticks = X_TICKS.map((v) => ({ value: v }));
        },
        afterFit: (ax: any) => {
          ax.height = 126;
        },
        ticks: {
          font: { family: FONT, size: 36 },
          color: '#000',
          padding: 1,
          maxRotation: 0,
          autoSkip: false,
        },
      },
    };
    STATIONS.forEach((name, i) => {
      scales['y' + i] = {
        type: 'linear',
        position: 'left',
        stack: 'traces',
        stackWeight: 1,
        weight: n - i,
        min: -AMP_MAX,
        max: AMP_MAX,
        grid: { display: false, drawTicks: false },
        border: { display: false },
        afterBuildTicks: (ax: any) => {
          ax.ticks = [{ value: 0 }];
        },
        afterFit: (ax: any) => {
          ax.width = 164;
        },
        ticks: {
          callback: () => name,
          font: { family: FONT, size: 37 },
          color: '#000',
          padding: 19,
          autoSkip: false,
        },
      };
    });

    const datasets = TRACES.map((vals, i) => ({
      label: STATIONS[i],
      data: vals.map((v, k) => ({ x: k * SAMPLE_INTERVALS[i], y: v })),
      xAxisID: 'x',
      yAxisID: 'y' + i,
      borderColor: '#000',
      borderWidth: 2.4,
      borderJoinStyle: 'round' as const,
      pointRadius: 0,
      fill: false,
      tension: 0,
    }));

    const chart = new Chart(canvas, {
      type: 'line',
      data: { datasets },
      options: {
        responsive: false,
        animation: false,
        events: [],
        layout: { padding: { top: 98, right: 26, bottom: 0, left: 0 } },
        plugins: {
          legend: { display: false },
          tooltip: { enabled: false },
          title: { display: false },
        },
        scales,
      },
      plugins: [framePlugin],
    } as any);

    return () => {
      chart.destroy();
    };
  }, []);

  return (
    <canvas
      ref={ref}
      width={CANVAS_W}
      height={CANVAS_H}
      style={{ display: 'block', width: CANVAS_W, height: CANVAS_H }}
    />
  );
}
